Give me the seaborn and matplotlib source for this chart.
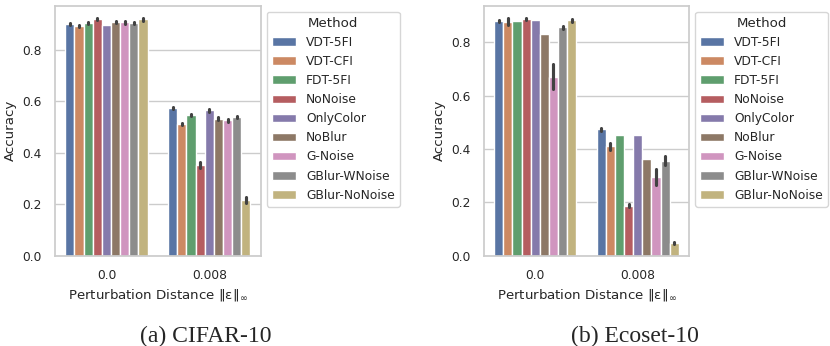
import matplotlib
import matplotlib.pyplot as plt
import pandas as pd
import seaborn as sns

matplotlib.use("Agg")

methods = ["VDT-5FI", "VDT-CFI", "FDT-5FI", "NoNoise", "OnlyColor",
           "NoBlur", "G-Noise", "GBlur-WNoise", "GBlur-NoNoise"]
eps_labels = ["0.0", "0.008"]

# CIFAR-10 mean accuracy and half-width of the error bar, per method
cifar_eps0      = [0.900, 0.894, 0.904, 0.921, 0.899, 0.908, 0.907, 0.904, 0.920]
cifar_eps0_err  = [0.004, 0.004, 0.004, 0.004, 0.000, 0.004, 0.006, 0.004, 0.006]
cifar_eps8      = [0.574, 0.512, 0.548, 0.353, 0.565, 0.532, 0.526, 0.541, 0.217]
cifar_eps8_err  = [0.005, 0.005, 0.005, 0.012, 0.005, 0.006, 0.005, 0.004, 0.011]

# Ecoset-10
eco_eps0        = [0.880, 0.877, 0.880, 0.887, 0.882, 0.829, 0.671, 0.855, 0.882]
eco_eps0_err    = [0.004, 0.013, 0.000, 0.005, 0.000, 0.000, 0.047, 0.007, 0.005]
eco_eps8        = [0.473, 0.410, 0.454, 0.188, 0.454, 0.364, 0.294, 0.356, 0.047]
eco_eps8_err    = [0.006, 0.014, 0.000, 0.005, 0.000, 0.000, 0.030, 0.017, 0.005]


def build_frame(m0, e0, m8, e8):
    # two samples per bar so that the min-max interval gives the error bar
    rows = []
    for eps, means, errs in ((eps_labels[0], m0, e0), (eps_labels[1], m8, e8)):
        for name, m, e in zip(methods, means, errs):
            rows.append({"eps": eps, "Method": name, "Accuracy": m - e})
            rows.append({"eps": eps, "Method": name, "Accuracy": m + e})
    return pd.DataFrame(rows)


def draw_panel(ax, df):
    sns.barplot(data=df, x="eps", y="Accuracy", hue="Method",
                hue_order=methods, order=eps_labels, palette="deep",
                errorbar=("pi", 100), ax=ax)
    ax.set_xlabel(r"Perturbation Distance $\|\epsilon\|_\infty$")
    ax.set_ylabel("Accuracy")
    ax.legend(title="Method", loc="upper left", bbox_to_anchor=(1.0, 1.0))


sns.set_theme(style="whitegrid", context="notebook", font_scale=0.8)
plt.rcParams["mathtext.default"] = "regular"

fig = plt.figure(figsize=(8.3, 3.46), dpi=100)
ax1 = fig.add_axes([0.0663, 0.261, 0.2478, 0.7225])
ax2 = fig.add_axes([0.5831, 0.261, 0.2470, 0.7225])

draw_panel(ax1, build_frame(cifar_eps0, cifar_eps0_err, cifar_eps8, cifar_eps8_err))
draw_panel(ax2, build_frame(eco_eps0, eco_eps0_err, eco_eps8, eco_eps8_err))

fig.text(0.248, 0.012, "(a) CIFAR-10", family="Liberation Serif",
         fontsize=17, ha="center", va="baseline")
fig.text(0.765, 0.012, "(b) Ecoset-10", family="Liberation Serif",
         fontsize=17, ha="center", va="baseline")

fig.savefig("out.png", dpi=100)
plt.close(fig)
